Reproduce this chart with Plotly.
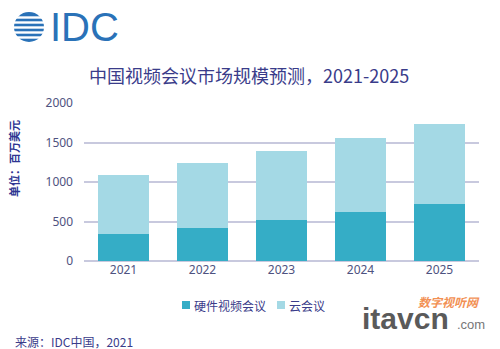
import plotly.graph_objects as go

# China video conferencing market forecast (USD millions)
years = ["2021", "2022", "2023", "2024", "2025"]
hardware = [338, 422, 515, 617, 726]      # 硬件视频会议
cloud = [752, 820, 883, 942, 1010]        # 云会议
y_ticks = [0, 500, 1000, 1500, 2000]

NAVY = "#3a3c8a"
TICK = "#4e5280"
CJK = "Noto Sans CJK SC"
C_HW = "#35adc6"
C_CLOUD = "#a4d9e5"

fig = go.Figure()
fig.add_bar(x=years, y=hardware, name="硬件视频会议", marker_color=C_HW,
            marker_line_width=0)
fig.add_bar(x=years, y=cloud, name="云会议", marker_color=C_CLOUD,
            marker_line_width=0)

fig.update_layout(
    width=500, height=349,
    barmode="stack", bargap=0.35,
    plot_bgcolor="white", paper_bgcolor="white",
    margin=dict(l=84, r=21, t=103, b=88),
    font=dict(family=CJK, color=NAVY),
    showlegend=False,
    xaxis=dict(showgrid=False, showline=False, ticks="",
               tickfont=dict(size=12, color=TICK, family="Noto Sans")),
    yaxis=dict(range=[0, 2000], tickvals=y_ticks, showgrid=True,
               gridcolor="#c8c9de", gridwidth=1.5, zeroline=True,
               zerolinecolor="#c8c9de", zerolinewidth=1.5, showline=False,
               ticks="", ticklabelstandoff=10,
               tickfont=dict(size=12, color=TICK, family="Noto Sans")),
)

def px(x):
    return (x - 84) / 395
def py(y):
    return (261 - y) / 158

# Title
fig.add_annotation(text="中国视频会议市场规模预测，2021-2025", xref="paper", yref="paper",
                   x=px(249), y=py(75), xanchor="center", yanchor="middle",
                   showarrow=False, font=dict(size=18, color=NAVY, family=CJK))

# Axis title
fig.add_annotation(text="<b>单位：百万美元</b>", xref="paper", yref="paper",
                   x=px(14), y=py(159), xanchor="center", yanchor="middle",
                   textangle=-90, showarrow=False,
                   font=dict(size=11, color="#2e3592", family=CJK))

# Legend drawn by hand: small square swatch + label
for x0, name, col in [(182, "硬件视频会议", C_HW), (277, "云会议", C_CLOUD)]:
    fig.add_shape(type="rect", xref="paper", yref="paper",
                  x0=px(x0), x1=px(x0 + 8), y0=py(309), y1=py(301),
                  fillcolor=col, line_width=0)
    fig.add_annotation(text=name, xref="paper", yref="paper",
                       x=px(x0 + 10), y=py(305), xanchor="left", yanchor="middle",
                       showarrow=False, font=dict(size=12, color=NAVY, family=CJK))

# Source
fig.add_annotation(text="来源：IDC中国，2021", xref="paper", yref="paper",
                   x=px(13), y=py(341), xanchor="left", yanchor="middle",
                   showarrow=False, font=dict(size=12, color=NAVY, family=CJK))

# IDC logo: striped globe + wordmark
BLUE = "#2a72b8"
cx, cy, r = 29, 27, 15
fig.add_shape(type="circle", xref="paper", yref="paper",
              x0=px(cx - r), x1=px(cx + r), y0=py(cy + r), y1=py(cy - r),
              fillcolor=BLUE, line_width=0, layer="above")
for sy in [17.5, 22.5, 27.5, 32.5, 37.5]:
    fig.add_shape(type="rect", xref="paper", yref="paper",
                  x0=px(cx - r - 1), x1=px(cx + r + 1), y0=py(sy + 1.2), y1=py(sy - 1.2),
                  fillcolor="white", line_width=0, layer="above")
fig.add_annotation(text="IDC", xref="paper", yref="paper",
                   x=px(48), y=py(27), xanchor="left", yanchor="middle",
                   showarrow=False,
                   font=dict(size=40, color=BLUE, family="Liberation Sans"))

# Site watermark
fig.add_annotation(text="<b><i>数字视听网</i></b>", xref="paper", yref="paper",
                   x=px(482), y=py(301), xanchor="right", yanchor="middle",
                   showarrow=False, font=dict(size=12, color="#f29155", family=CJK))
fig.add_annotation(text="<b>itavcn</b>", xref="paper", yref="paper",
                   x=px(360), y=py(318), xanchor="left", yanchor="middle",
                   showarrow=False, font=dict(size=30, color="#5a5a5a", family="Liberation Sans"))
fig.add_annotation(text=".com", xref="paper", yref="paper",
                   x=px(455), y=py(324), xanchor="left", yanchor="middle",
                   showarrow=False, font=dict(size=13, color="#777777", family="Liberation Sans"))

fig.write_html("out.html")
